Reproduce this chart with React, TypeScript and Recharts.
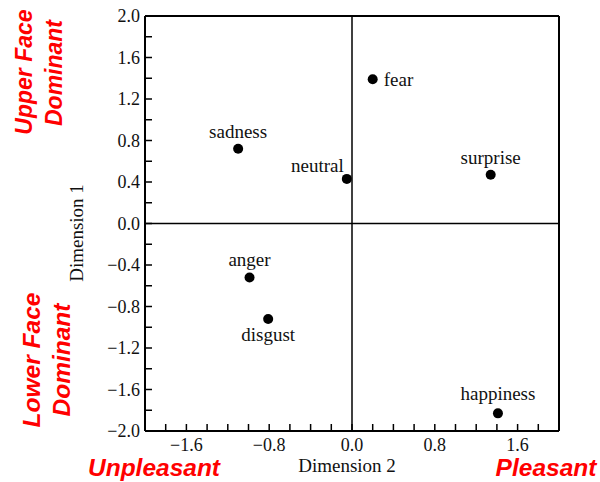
import React from 'react';
import {
  ScatterChart,
  Scatter,
  XAxis,
  YAxis,
  ReferenceLine,
} from 'recharts';

// Emotion coordinates in the two-dimensional space
const emotions = ['fear', 'sadness', 'neutral', 'surprise', 'anger', 'disgust', 'happiness'];
const dimension2 = [0.2, -1.1, -0.05, 1.34, -0.99, -0.81, 1.41];
const dimension1 = [1.39, 0.72, 0.43, 0.47, -0.52, -0.92, -1.83];

// Axis ticks (minor every 0.2, labelled ones selected by the formatter)
const xTicks = [-1.8, -1.6, -1.4, -1.2, -1.0, -0.8, -0.6, -0.4, -0.2, 0, 0.2, 0.4, 0.6, 0.8, 1.0, 1.2, 1.4, 1.6, 1.8];
const yTicks = [-2.0, -1.8, -1.6, -1.4, -1.2, -1.0, -0.8, -0.6, -0.4, -0.2, 0, 0.2, 0.4, 0.6, 0.8, 1.0, 1.2, 1.4, 1.6, 1.8, 2.0];

const points = emotions.map((name, i) => ({ name, x: dimension2[i], y: dimension1[i] }));

// Where each point's name sits relative to its marker
const labelPlacement: Record<string, { dx: number; dy: number; anchor: 'start' | 'middle' | 'end' }> = {
  fear: { dx: 11, dy: 0, anchor: 'start' },
  sadness: { dx: 0, dy: -17, anchor: 'middle' },
  neutral: { dx: -3, dy: -13, anchor: 'end' },
  surprise: { dx: 0, dy: -17, anchor: 'middle' },
  anger: { dx: 0, dy: -18, anchor: 'middle' },
  disgust: { dx: 0, dy: 16, anchor: 'middle' },
  happiness: { dx: 0, dy: -20, anchor: 'middle' },
};

const SERIF = '"Liberation Serif", "DejaVu Serif", serif';
const SANS = '"Liberation Sans", Arial, sans-serif';
const RED = '#ff0000';
const INK = '#111';

const fmt = (v: number) => (v < 0 ? '\u2212' : '') + Math.abs(v).toFixed(1);
const fmtX = (v: number) => (Math.abs(Math.round(v * 10)) % 8 === 0 ? fmt(v) : '');
const fmtY = (v: number) => (Math.abs(Math.round(v * 10)) % 4 === 0 ? fmt(v) : '');

const XTick = (props: any) => {
  const { x, y, payload } = props;
  const label = fmtX(payload.value);
  if (!label) return null;
  return (
    <text x={x} y={y} dy="0.71em" textAnchor="middle" fontFamily={SERIF} fontSize={18} fill={INK}>
      {label}
    </text>
  );
};

const YTick = (props: any) => {
  const { x, y, payload } = props;
  const label = fmtY(payload.value);
  if (!label) return null;
  return (
    <text x={x} y={y} dy="0.355em" textAnchor="end" fontFamily={SERIF} fontSize={18} fill={INK}>
      {label}
    </text>
  );
};

const PointShape = (props: any) => {
  const { cx, cy, payload } = props;
  const p = labelPlacement[payload.name];
  return (
    <g>
      <circle cx={cx} cy={cy} r={5} fill="#000" />
      <text
        x={cx + p.dx}
        y={cy + p.dy}
        textAnchor={p.anchor}
        dominantBaseline="central"
        fontFamily={SERIF}
        fontSize={19}
        fill={INK}
      >
        {payload.name}
      </text>
    </g>
  );
};

export default function App() {
  return (
    <div
      style={{
        position: 'absolute',
        left: 0,
        top: 0,
        width: 600,
        height: 482,
        background: '#fff',
        fontFamily: SERIF,
      }}
    >
      <ScatterChart
        width={600}
        height={482}
        margin={{ top: 16, right: 41, bottom: 21, left: 0 }}
      >
        <XAxis
          type="number"
          dataKey="x"
          domain={[-2, 2]}
          ticks={xTicks}
          interval={0}
          height={30}
          tickSize={-7}
          tickMargin={14}
          axisLine={{ stroke: '#000', strokeWidth: 2 }}
          tickLine={{ stroke: '#000', strokeWidth: 1.5 }}
          tick={<XTick />}
          allowDataOverflow
        />
        <YAxis
          type="number"
          dataKey="y"
          domain={[-2, 2]}
          ticks={yTicks}
          interval={0}
          width={145}
          tickSize={-7}
          tickMargin={12}
          axisLine={{ stroke: '#000', strokeWidth: 2 }}
          tickLine={{ stroke: '#000', strokeWidth: 1.5 }}
          tick={<YTick />}
          allowDataOverflow
        />
        <ReferenceLine y={2} stroke="#000" strokeWidth={2} />
        <ReferenceLine x={2} stroke="#000" strokeWidth={2} />
        <ReferenceLine y={0} stroke="#000" strokeWidth={1.5} />
        <ReferenceLine x={0} stroke="#000" strokeWidth={1.5} />
        <Scatter data={points} shape={PointShape} isAnimationActive={false} />
      </ScatterChart>
      <svg
        width={600}
        height={482}
        style={{ position: 'absolute', left: 0, top: 0, pointerEvents: 'none' }}
      >
        <text x={347} y={472} textAnchor="middle" fontFamily={SERIF} fontSize={19} fill={INK}>
          Dimension 2
        </text>
        <text
          transform="translate(83,233) rotate(-90)"
          textAnchor="middle"
          fontFamily={SERIF}
          fontSize={19}
          fill={INK}
        >
          Dimension 1
        </text>
        <g fontFamily={SANS} fontStyle="italic" fontWeight="bold" fill={RED}>
          <text transform="translate(32,72) rotate(-90)" textAnchor="middle" fontSize={23}>
            Upper Face
          </text>
          <text transform="translate(62,73) rotate(-90)" textAnchor="middle" fontSize={23}>
            Dominant
          </text>
          <text transform="translate(40,360) rotate(-90)" textAnchor="middle" fontSize={24.5}>
            Lower Face
          </text>
          <text transform="translate(70,360) rotate(-90)" textAnchor="middle" fontSize={24.5}>
            Dominant
          </text>
          <text x={154} y={476} textAnchor="middle" fontSize={24.5}>
            Unpleasant
          </text>
          <text x={546} y={476} textAnchor="middle" fontSize={24.5}>
            Pleasant
          </text>
        </g>
      </svg>
    </div>
  );
}
